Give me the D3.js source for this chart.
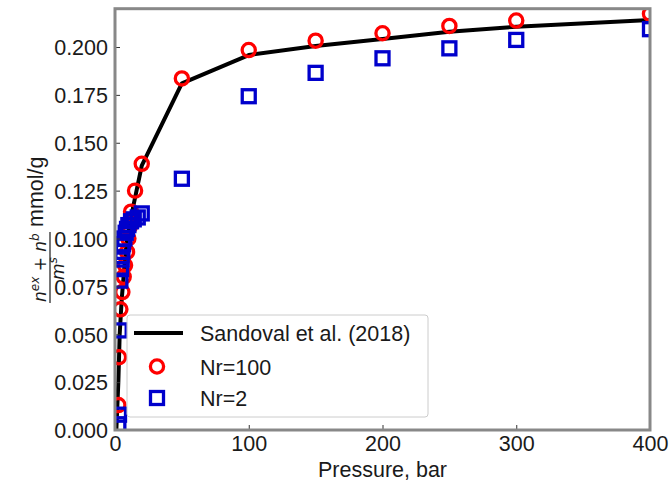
<!DOCTYPE html>
<html>
<head>
<meta charset="utf-8">
<script src="https://cdn.jsdelivr.net/npm/d3@7.9.0/dist/d3.min.js"></script>
<style>
  body { margin: 0; background: #fff; }
  svg { display: block; font-family: "Liberation Sans", Arial, sans-serif; }
</style>
</head>
<body>
<svg id="chart"></svg>
<script>
const width = 671;
const height = 485;

// Sandoval et al. (2018) reference curve
const refPressure = [1, 2.5, 3.5, 5, 7, 9, 14, 20, 50, 100, 150, 200, 250, 300, 400];
const refUptake = [0, 0.025, 0.05, 0.068, 0.085, 0.1, 0.118, 0.138, 0.181, 0.1958, 0.2005, 0.2042, 0.208, 0.2106, 0.2141];

// Nr=100 (red circles)
const nr100Pressure = [2.5, 3, 4, 5.5, 6.5, 7.5, 9, 10, 11, 12, 15, 20, 50, 100, 150, 200, 250, 300, 400];
const nr100Uptake = [0.013, 0.038, 0.063, 0.072, 0.080, 0.086, 0.093, 0.100, 0.106, 0.114, 0.125, 0.139, 0.1836, 0.1984, 0.2033, 0.2072, 0.211, 0.2138, 0.2173];

// Nr=2 (blue squares)
const nr2Pressure = [2.5, 3, 3.5, 4, 4.5, 5, 5.5, 6, 7, 8, 9, 10, 12, 14, 17, 20, 50, 100, 150, 200, 250, 300, 400];
const nr2Uptake = [0.003, 0.008, 0.052, 0.078, 0.084, 0.089, 0.093, 0.097, 0.100, 0.103, 0.105, 0.107, 0.109, 0.110, 0.111, 0.1131, 0.1312, 0.1743, 0.1865, 0.1941, 0.1993, 0.2037, 0.2093];

const xTicks = [0, 100, 200, 300, 400];
const yTicks = [0, 0.025, 0.05, 0.075, 0.1, 0.125, 0.15, 0.175, 0.2];

const legendLabels = ["Sandoval et al. (2018)", "Nr=100", "Nr=2"];

const fontSize = "21.5px";
const textColor = "#1a1a1a";

const x = d3.scaleLinear().domain([0, 400]).range([115, 650]);
const y = d3.scaleLinear().domain([0, 0.22]).range([430, 8.7]);

const svg = d3.select("#chart").attr("width", width).attr("height", height);

svg.append("defs").append("clipPath").attr("id", "plot-clip")
    .append("rect")
    .attr("x", x(0)).attr("y", y(0.22))
    .attr("width", x(400) - x(0)).attr("height", y(0) - y(0.22));

const plot = svg.append("g").attr("clip-path", "url(#plot-clip)");

// reference line
const refData = refPressure.map((p, i) => [p, refUptake[i]]);
plot.append("path")
    .datum(refData)
    .attr("d", d3.line().x(d => x(d[0])).y(d => y(d[1])))
    .attr("fill", "none")
    .attr("stroke", "#000")
    .attr("stroke-width", 4)
    .attr("stroke-linejoin", "round");

// Nr=100 circles
plot.selectAll("circle.nr100")
    .data(nr100Pressure.map((p, i) => [p, nr100Uptake[i]]))
    .enter().append("circle")
    .attr("class", "nr100")
    .attr("cx", d => x(d[0]))
    .attr("cy", d => y(d[1]))
    .attr("r", 6.6)
    .attr("fill", "none")
    .attr("stroke", "#ff0000")
    .attr("stroke-width", 3.3);

// Nr=2 squares
const sq = 13;
plot.selectAll("rect.nr2")
    .data(nr2Pressure.map((p, i) => [p, nr2Uptake[i]]))
    .enter().append("rect")
    .attr("class", "nr2")
    .attr("x", d => x(d[0]) - sq / 2)
    .attr("y", d => y(d[1]) - sq / 2)
    .attr("width", sq).attr("height", sq)
    .attr("fill", "none")
    .attr("stroke", "#0000cc")
    .attr("stroke-width", 3.3);

// axes (ticks pointing inward)
const xAxis = svg.append("g")
    .attr("transform", `translate(0,${y(0)})`)
    .call(d3.axisBottom(x).tickValues(xTicks).tickSizeInner(-5).tickSizeOuter(0).tickPadding(6).tickFormat(d3.format("d")));
const yAxis = svg.append("g")
    .attr("transform", `translate(${x(0)},0)`)
    .call(d3.axisLeft(y).tickValues(yTicks).tickSizeInner(-5).tickSizeOuter(0).tickPadding(7).tickFormat(d3.format(".3f")));

[xAxis, yAxis].forEach(a => {
    a.select(".domain").remove();
    a.selectAll(".tick line").attr("stroke", "#333").attr("stroke-width", 1);
    a.selectAll(".tick text").attr("fill", textColor).style("font-size", fontSize);
});
xAxis.selectAll(".tick text").attr("dy", "0.72em");
yAxis.selectAll(".tick text").attr("dy", "0.36em");

// frame
svg.append("rect")
    .attr("x", x(0)).attr("y", y(0.22))
    .attr("width", x(400) - x(0)).attr("height", y(0) - y(0.22))
    .attr("fill", "none")
    .attr("stroke", "#888")
    .attr("stroke-width", 3);

// x label
svg.append("text")
    .attr("x", (x(0) + x(400)) / 2)
    .attr("y", 477)
    .attr("text-anchor", "middle")
    .style("font-size", fontSize)
    .attr("fill", textColor)
    .text("Pressure, bar");

// y label: fraction + unit, rotated
const yl = svg.append("g").attr("transform", "rotate(-90)").attr("fill", textColor);
const mathFont = "'DejaVu Sans', sans-serif";
const num = yl.append("text")
    .attr("x", -302).attr("y", 46)
    .style("font-family", mathFont).style("font-size", "17px");
num.append("tspan").style("font-style", "italic").text("n");
num.append("tspan").attr("dy", -7).style("font-size", "12px").style("font-style", "italic").text("ex");
num.append("tspan").attr("dy", 7).text(" + ");
num.append("tspan").style("font-style", "italic").text("n");
num.append("tspan").attr("dy", -7).style("font-size", "12px").style("font-style", "italic").text("b");
yl.append("line")
    .attr("x1", -303).attr("x2", -232)
    .attr("y1", 50).attr("y2", 50)
    .attr("stroke", textColor).attr("stroke-width", 1.2);
const den = yl.append("text")
    .attr("x", -280).attr("y", 64)
    .style("font-family", mathFont).style("font-size", "17px");
den.append("tspan").style("font-style", "italic").text("m");
den.append("tspan").attr("dy", -7).style("font-size", "12px").style("font-style", "italic").text("s");
yl.append("text")
    .attr("x", -227).attr("y", 43)
    .style("font-size", fontSize)
    .text("mmol/g");

// legend
const lg = svg.append("g");
lg.append("rect")
    .attr("x", 127).attr("y", 315)
    .attr("width", 301).attr("height", 102)
    .attr("rx", 3)
    .attr("fill", "#fff").attr("fill-opacity", 0.8)
    .attr("stroke", "#cccccc").attr("stroke-width", 1);
const rowY = [333, 366.5, 398];
lg.append("line")
    .attr("x1", 134).attr("x2", 183)
    .attr("y1", rowY[0]).attr("y2", rowY[0])
    .attr("stroke", "#000").attr("stroke-width", 4);
lg.append("circle")
    .attr("cx", 157).attr("cy", rowY[1]).attr("r", 6.6)
    .attr("fill", "none").attr("stroke", "#ff0000").attr("stroke-width", 3.3);
lg.append("rect")
    .attr("x", 157 - sq / 2).attr("y", rowY[2] - sq / 2)
    .attr("width", sq).attr("height", sq)
    .attr("fill", "none").attr("stroke", "#0000cc").attr("stroke-width", 3.3);
lg.selectAll("text.lbl")
    .data(legendLabels)
    .enter().append("text")
    .attr("class", "lbl")
    .attr("x", 200)
    .attr("y", (d, i) => rowY[i] + 8)
    .style("font-size", fontSize)
    .attr("fill", textColor)
    .text(d => d);
</script>
</body>
</html>
